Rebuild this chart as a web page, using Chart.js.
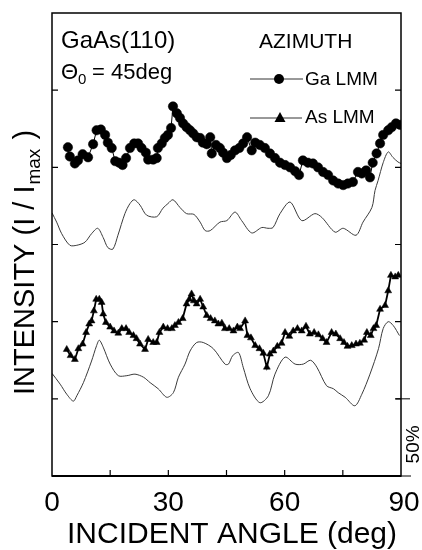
<!DOCTYPE html>
<html>
<head>
<meta charset="utf-8">
<script src="https://cdn.jsdelivr.net/npm/chart.js@4.4.1/dist/chart.umd.min.js"></script>
<style>
  html, body { margin: 0; padding: 0; background: #fff; }
  #wrap { width: 422px; height: 550px; }
</style>
</head>
<body>
<div id="wrap"><canvas id="azimuthChart" width="422" height="550"></canvas></div>
<script>
// incident angle (deg) and intensity, 1 unit = 50 %
const gaAngles = [
  4.1, 4.6, 5.9, 6.7, 7.9, 9.3, 10.6, 11.5, 12.6, 13.7,
  14.4, 15.4, 16.3, 17.3, 18.2, 19.1, 20.1, 21.2, 22.2, 23.1,
  24.2, 24.8, 26.1, 27.0, 27.3, 28.3, 29.1, 29.9, 30.7, 31.2,
  32.2, 33.0, 33.8, 34.7, 35.6, 36.4, 37.3, 38.2, 38.9, 39.9,
  40.8, 41.2, 42.3, 43.3, 44.1, 45.1, 46.1, 47.2, 48.3, 49.3,
  50.3, 51.5, 52.4, 53.6, 54.9, 56.2, 57.5, 58.8, 60.1, 61.4,
  62.7, 63.7, 64.7, 66.0, 67.3, 68.6, 69.9, 71.2, 72.5, 73.8,
  75.1, 76.3, 77.6, 78.9, 79.9, 81.0, 82.0, 82.7, 83.7, 84.6,
  85.4, 86.7, 87.6, 88.7, 89.8
];
const gaLmm = [
  4.26, 4.14, 4.05, 4.09, 4.17, 4.13, 4.30, 4.48, 4.49, 4.42,
  4.32, 4.25, 4.08, 4.06, 4.03, 4.12, 4.25, 4.31, 4.31, 4.25,
  4.19, 4.10, 4.10, 4.12, 4.25, 4.31, 4.38, 4.42, 4.51, 4.79,
  4.70, 4.64, 4.57, 4.52, 4.48, 4.44, 4.39, 4.38, 4.32, 4.30,
  4.39, 4.18, 4.29, 4.25, 4.19, 4.12, 4.16, 4.22, 4.25, 4.31,
  4.39, 4.22, 4.32, 4.29, 4.25, 4.18, 4.12, 4.06, 4.03, 4.00,
  3.95, 3.90, 4.09, 4.06, 4.05, 4.00, 3.94, 3.90, 3.83, 3.79,
  3.77, 3.79, 3.81, 3.94, 3.92, 3.96, 3.87, 4.06, 4.18, 4.31,
  4.42, 4.48, 4.52, 4.57, 4.55
];
const gaCalcAngles = [
  0, 1.2, 2.5, 4.6, 6.4, 8.5, 10.2, 11.8, 13.2, 14.4,
  15.7, 17.0, 18.8, 20.1, 21.2, 22.7, 24.4, 27.0, 28.6, 29.9,
  31.2, 33.0, 34.7, 36.6, 38.2, 39.5, 40.8, 43.3, 45.1, 47.2,
  48.9, 51.5, 54.1, 55.7, 57.0, 58.8, 61.4, 64.4, 67.8, 69.6,
  73.0, 75.1, 78.4, 80.2, 82.5, 83.3, 84.1, 85.4, 86.7, 87.9,
  89.2, 90
];
const gaCalc = [
  3.41, 3.29, 3.14, 2.99, 2.99, 3.03, 3.14, 3.21, 3.09, 2.96,
  2.94, 3.12, 3.40, 3.53, 3.58, 3.51, 3.38, 3.36, 3.47, 3.53,
  3.58, 3.48, 3.40, 3.39, 3.29, 3.18, 3.18, 3.29, 3.31, 3.42,
  3.31, 3.15, 3.22, 3.21, 3.22, 3.40, 3.55, 3.31, 3.40, 3.35,
  3.16, 3.21, 3.12, 3.29, 3.48, 3.70, 3.83, 4.06, 4.20, 4.13,
  4.07, 4.05
];
const asAngles = [
  3.8, 4.8, 5.9, 6.8, 7.9, 8.8, 9.6, 10.2, 10.8, 11.4,
  12.2, 12.8, 13.2, 13.9, 15.0, 16.0, 17.1, 18.0, 19.1, 19.9,
  21.0, 21.8, 22.7, 24.0, 24.8, 26.1, 27.0, 27.7, 28.7, 29.8,
  30.9, 31.7, 32.6, 33.7, 34.7, 35.4, 36.0, 36.6, 37.3, 38.2,
  39.0, 39.9, 40.9, 42.0, 42.9, 43.8, 44.6, 45.7, 46.8, 47.8,
  48.5, 49.8, 50.4, 51.3, 52.4, 53.5, 54.5, 55.4, 56.2, 57.1,
  58.1, 59.2, 60.1, 61.2, 62.2, 63.3, 64.4, 65.5, 66.5, 67.6,
  68.7, 69.8, 70.8, 72.1, 73.2, 74.3, 75.3, 76.2, 77.3, 78.4,
  79.4, 80.5, 81.2, 82.2, 82.9, 83.6, 84.6, 85.9, 86.7, 87.4,
  88.5, 89.3
];
const asLmm = [
  1.64, 1.56, 1.51, 1.65, 1.71, 1.86, 1.97, 2.01, 2.14, 2.29,
  2.29, 2.25, 2.10, 1.99, 1.93, 1.88, 1.85, 1.91, 1.91, 1.86,
  1.82, 1.78, 1.71, 1.64, 1.77, 1.73, 1.73, 1.86, 1.93, 1.91,
  1.91, 1.95, 1.99, 2.04, 2.23, 2.29, 2.36, 2.27, 2.23, 2.29,
  2.19, 2.08, 2.04, 2.01, 1.97, 1.98, 1.91, 1.91, 1.88, 1.93,
  1.91, 2.01, 1.82, 1.79, 1.69, 1.65, 1.59, 1.41, 1.58, 1.62,
  1.68, 1.72, 1.86, 1.81, 1.88, 1.91, 1.88, 1.94, 1.84, 1.86,
  1.83, 1.78, 1.73, 1.86, 1.84, 1.78, 1.73, 1.68, 1.69, 1.71,
  1.72, 1.76, 1.86, 1.82, 1.91, 1.95, 2.16, 2.21, 2.40, 2.60,
  2.58, 2.60
];
const asCalcAngles = [
  0, 2.1, 3.8, 5.5, 6.4, 8.1, 10.2, 11.5, 12.2, 13.2,
  15.0, 17.1, 19.3, 21.4, 23.6, 25.3, 27.4, 29.6, 31.3, 32.6,
  34.3, 35.6, 37.3, 39.0, 41.6, 44.6, 45.5, 46.6, 48.1, 49.3,
  51.1, 53.6, 55.8, 57.5, 60.1, 62.7, 64.8, 66.7, 68.3, 70.8,
  72.6, 73.8, 75.6, 78.1, 79.9, 82.0, 84.2, 85.4, 86.7, 88.0,
  89.6
];
const asCalc = [
  1.33, 1.19, 1.06, 0.97, 1.04, 1.21, 1.49, 1.69, 1.76, 1.67,
  1.45, 1.30, 1.30, 1.32, 1.28, 1.21, 1.13, 1.02, 1.08, 1.28,
  1.45, 1.62, 1.73, 1.73, 1.65, 1.45, 1.45, 1.56, 1.60, 1.41,
  1.13, 0.95, 1.04, 1.32, 1.54, 1.45, 1.45, 1.50, 1.41, 1.17,
  1.13, 1.08, 1.02, 0.91, 1.06, 1.32, 1.65, 1.91, 2.00, 1.95,
  1.82
];
const xTickLabels = [0, 30, 60, 90];
const xTickMarks = [15, 30, 45, 60, 75];
const yTickMarks = [1, 2, 3, 4, 5];

function pts(xs, ys) {
  return xs.map((v, i) => ({ x: v, y: ys[i] }));
}

const FONT = '"Liberation Sans", Arial, Helvetica, sans-serif';

const decorations = {
  id: 'decorations',
  afterDraw(chart) {
    const ctx = chart.ctx;
    const { left, right, top, bottom } = chart.chartArea;
    const x = chart.scales.x;
    const y = chart.scales.y;
    ctx.save();
    ctx.strokeStyle = '#000';
    ctx.fillStyle = '#000';

    // frame
    ctx.lineWidth = 1.5;
    ctx.strokeRect(left, top, right - left, bottom - top);
    ctx.lineWidth = 2.2;
    ctx.beginPath();
    ctx.moveTo(left, bottom);
    ctx.lineTo(right, bottom);
    ctx.stroke();

    // inside ticks
    ctx.lineWidth = 1.2;
    ctx.beginPath();
    xTickMarks.forEach(v => {
      const px = x.getPixelForValue(v);
      ctx.moveTo(px, bottom);
      ctx.lineTo(px, bottom - 6);
    });
    yTickMarks.forEach(v => {
      const py = y.getPixelForValue(v);
      ctx.moveTo(left, py);
      ctx.lineTo(left + 6, py);
      ctx.moveTo(right, py);
      ctx.lineTo(right - 6, py);
    });
    ctx.stroke();

    // 50 % bar on the right
    ctx.lineWidth = 1;
    ctx.beginPath();
    ctx.moveTo(right - 5, y.getPixelForValue(1));
    ctx.lineTo(right + 9, y.getPixelForValue(1));
    ctx.moveTo(right, y.getPixelForValue(0));
    ctx.lineTo(right + 10, y.getPixelForValue(0));
    ctx.stroke();
    ctx.save();
    ctx.translate(right + 13, y.getPixelForValue(0.5) + 7);
    ctx.rotate(-Math.PI / 2);
    ctx.font = '19px ' + FONT;
    ctx.textAlign = 'center';
    ctx.textBaseline = 'middle';
    ctx.fillText('50%', 0, 0);
    ctx.restore();

    // x tick labels and title
    ctx.font = '28px ' + FONT;
    ctx.textAlign = 'center';
    ctx.textBaseline = 'middle';
    xTickLabels.forEach(v => {
      ctx.fillText(String(v), x.getPixelForValue(v) + (v === 90 ? 3 : 0), 503);
    });
    ctx.font = '30px ' + FONT;
    ctx.textBaseline = 'alphabetic';
    ctx.fillText('INCIDENT ANGLE (deg)', 232, 543);

    // y title with subscript
    ctx.save();
    ctx.translate(34, 395);
    ctx.rotate(-Math.PI / 2);
    ctx.textAlign = 'left';
    ctx.textBaseline = 'alphabetic';
    ctx.font = '29px ' + FONT;
    let s = 'INTENSITY (I / I';
    ctx.fillText(s, 0, 0);
    let w = ctx.measureText(s).width;
    ctx.font = '19px ' + FONT;
    ctx.fillText('max', w + 1, 6);
    w += ctx.measureText('max').width + 2;
    ctx.font = '29px ' + FONT;
    ctx.fillText(' )', w, 0);
    ctx.restore();

    // annotations inside the frame
    ctx.textAlign = 'left';
    ctx.font = '24px ' + FONT;
    ctx.fillText('GaAs(110)', 61, 48);
    ctx.font = '22px ' + FONT;
    ctx.fillText('\u0398', 61, 79);
    let tw = ctx.measureText('\u0398').width;
    ctx.font = '15px ' + FONT;
    ctx.fillText('0', 61 + tw, 84);
    ctx.font = '22px ' + FONT;
    ctx.fillText('= 45deg', 61 + tw + 14, 79);
    ctx.font = '21px ' + FONT;
    ctx.fillText('AZIMUTH', 259, 48);

    // legend
    ctx.lineWidth = 1;
    ctx.strokeStyle = '#333';
    ctx.beginPath();
    ctx.moveTo(250, 79); ctx.lineTo(303, 79);
    ctx.moveTo(250, 118); ctx.lineTo(302, 118);
    ctx.stroke();
    ctx.beginPath();
    ctx.arc(279, 79, 5, 0, Math.PI * 2);
    ctx.fill();
    ctx.beginPath();
    ctx.moveTo(280, 112); ctx.lineTo(285.5, 122); ctx.lineTo(274.5, 122);
    ctx.closePath();
    ctx.fill();
    ctx.font = '19px ' + FONT;
    ctx.textBaseline = 'middle';
    ctx.fillText('Ga LMM', 305, 80);
    ctx.fillText('As LMM', 305, 118);
    ctx.restore();
  }
};

const ctx = document.getElementById('azimuthChart').getContext('2d');
new Chart(ctx, {
  type: 'scatter',
  data: {
    datasets: [
      {
        label: 'Ga LMM',
        data: pts(gaAngles, gaLmm),
        showLine: true,
        borderColor: '#000',
        borderWidth: 1,
        backgroundColor: '#000',
        pointStyle: 'circle',
        pointRadius: 4.7,
        pointBorderWidth: 0.5
      },
      {
        label: 'Ga calc',
        data: pts(gaCalcAngles, gaCalc),
        showLine: true,
        borderColor: '#3a3a3a',
        borderWidth: 1,
        pointRadius: 0,
        tension: 0.3
      },
      {
        label: 'As LMM',
        data: pts(asAngles, asLmm),
        showLine: true,
        borderColor: '#000',
        borderWidth: 1.8,
        backgroundColor: '#000',
        pointStyle: 'triangle',
        pointRadius: 4,
        pointBorderWidth: 0.5
      },
      {
        label: 'As calc',
        data: pts(asCalcAngles, asCalc),
        showLine: true,
        borderColor: '#3a3a3a',
        borderWidth: 1,
        pointRadius: 0,
        tension: 0.3
      }
    ]
  },
  options: {
    responsive: false,
    animation: false,
    layout: { padding: { left: 52, right: 21, top: 13, bottom: 74 } },
    scales: {
      x: { type: 'linear', min: 0, max: 90, display: false },
      y: { type: 'linear', min: 0, max: 6, display: false }
    },
    plugins: {
      legend: { display: false },
      tooltip: { enabled: false }
    }
  },
  plugins: [decorations]
});
</script>
</body>
</html>
